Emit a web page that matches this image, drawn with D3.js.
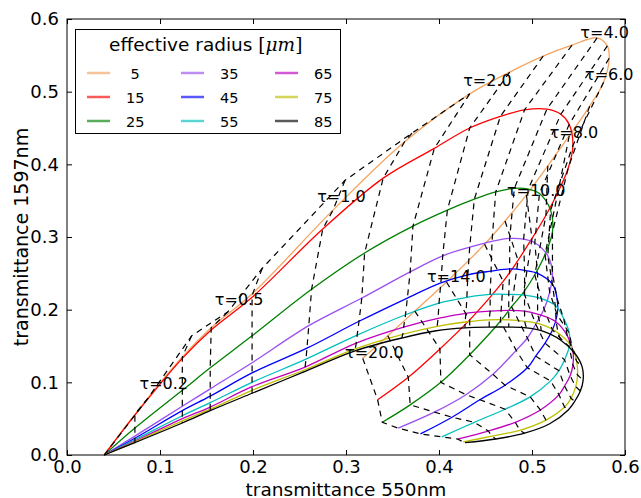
<!DOCTYPE html>
<html>
<head>
<meta charset="utf-8">
<script src="https://cdn.jsdelivr.net/npm/d3@7/dist/d3.min.js"></script>
<style>
  body { margin: 0; background: #ffffff; }
</style>
</head>
<body>
<div id="lutDiv"></div>
<script>
// tau grid shared by every radius curve (tau = 0 is the common start point)
const taus = [0, 0.2, 0.3, 0.5, 0.7, 1.0, 1.5, 2.0, 2.5, 3.0, 3.5, 4.0, 4.5, 5.0, 6.0, 7.0, 8.0, 9.0, 10.0, 11.0, 12.0, 14.0, 16.0, 18.0, 20.0];
const radii = [5, 15, 25, 35, 45, 55, 65, 75, 85];
const radiusColors = ['#f4a460', '#ff0000', '#008000', '#9b4ff0', '#0000ff', '#00bfbf', '#bf00bf', '#bfbf00', '#000000'];

// transmittance 550nm (x) and 1597nm (y) at each tau, one pair per radius
const x5  = [0.040, 0.073, 0.124, 0.155, 0.200, 0.286, 0.363, 0.433, 0.476, 0.512, 0.543, 0.570, 0.581, 0.583, 0.577, 0.562, 0.540, 0.517, 0.494, 0.471, 0.449, 0.408, 0.374, 0.345, 0.318];
const y5  = [0, 0.056, 0.135, 0.175, 0.223, 0.337, 0.431, 0.497, 0.527, 0.549, 0.564, 0.574, 0.563, 0.546, 0.513, 0.480, 0.439, 0.398, 0.358, 0.322, 0.290, 0.238, 0.198, 0.164, 0.133];
const x15 = [0.040, 0.073, 0.124, 0.155, 0.199, 0.275, 0.340, 0.395, 0.433, 0.466, 0.492, 0.516, 0.531, 0.540, 0.544, 0.539, 0.528, 0.515, 0.500, 0.485, 0.469, 0.433, 0.401, 0.367, 0.334];
const y15 = [0, 0.055, 0.133, 0.172, 0.217, 0.311, 0.381, 0.422, 0.450, 0.466, 0.475, 0.476, 0.469, 0.455, 0.426, 0.395, 0.362, 0.330, 0.298, 0.268, 0.239, 0.186, 0.146, 0.107, 0.076];
const x25 = [0.040, 0.073, 0.124, 0.154, 0.199, 0.263, 0.320, 0.372, 0.409, 0.438, 0.461, 0.481, 0.496, 0.508, 0.520, 0.522, 0.514, 0.503, 0.491, 0.478, 0.466, 0.433, 0.402, 0.369, 0.339];
const y25 = [0, 0.037, 0.089, 0.120, 0.164, 0.228, 0.278, 0.315, 0.337, 0.352, 0.362, 0.367, 0.366, 0.360, 0.337, 0.307, 0.276, 0.248, 0.224, 0.204, 0.184, 0.138, 0.100, 0.069, 0.045];
const x35 = [0.040, 0.073, 0.124, 0.154, 0.199, 0.260, 0.317, 0.369, 0.404, 0.433, 0.457, 0.476, 0.491, 0.503, 0.517, 0.522, 0.519, 0.513, 0.504, 0.495, 0.483, 0.458, 0.429, 0.395, 0.356];
const y35 = [0, 0.026, 0.067, 0.091, 0.127, 0.178, 0.216, 0.252, 0.274, 0.286, 0.294, 0.298, 0.297, 0.292, 0.274, 0.250, 0.224, 0.201, 0.180, 0.161, 0.144, 0.111, 0.083, 0.059, 0.037];
const x45 = [0.040, 0.073, 0.124, 0.154, 0.199, 0.258, 0.314, 0.366, 0.402, 0.431, 0.456, 0.476, 0.492, 0.506, 0.522, 0.527, 0.527, 0.522, 0.514, 0.504, 0.495, 0.471, 0.444, 0.414, 0.380];
const y45 = [0, 0.023, 0.061, 0.081, 0.113, 0.147, 0.184, 0.216, 0.237, 0.248, 0.253, 0.256, 0.254, 0.250, 0.235, 0.215, 0.193, 0.172, 0.154, 0.136, 0.120, 0.096, 0.076, 0.052, 0.029];
const x55 = [0.040, 0.073, 0.124, 0.154, 0.199, 0.257, 0.312, 0.364, 0.400, 0.430, 0.455, 0.475, 0.492, 0.506, 0.525, 0.534, 0.540, 0.540, 0.535, 0.529, 0.520, 0.498, 0.471, 0.438, 0.403];
const y55 = [0, 0.021, 0.054, 0.072, 0.100, 0.132, 0.165, 0.193, 0.209, 0.217, 0.221, 0.221, 0.220, 0.217, 0.206, 0.188, 0.168, 0.149, 0.131, 0.116, 0.102, 0.080, 0.063, 0.045, 0.025];
const x65 = [0.040, 0.073, 0.124, 0.154, 0.199, 0.256, 0.311, 0.362, 0.399, 0.429, 0.455, 0.475, 0.492, 0.506, 0.526, 0.538, 0.544, 0.544, 0.541, 0.535, 0.529, 0.509, 0.482, 0.453, 0.420];
const y65 = [0, 0.019, 0.050, 0.066, 0.094, 0.121, 0.154, 0.176, 0.188, 0.195, 0.198, 0.199, 0.198, 0.194, 0.183, 0.164, 0.143, 0.124, 0.109, 0.095, 0.083, 0.062, 0.045, 0.033, 0.022];
const x75 = [0.040, 0.073, 0.124, 0.154, 0.199, 0.255, 0.310, 0.361, 0.398, 0.428, 0.454, 0.475, 0.492, 0.509, 0.528, 0.542, 0.548, 0.549, 0.547, 0.542, 0.535, 0.515, 0.487, 0.457, 0.426];
const y75 = [0, 0.018, 0.047, 0.063, 0.089, 0.117, 0.146, 0.166, 0.177, 0.183, 0.186, 0.186, 0.184, 0.180, 0.168, 0.150, 0.129, 0.110, 0.094, 0.078, 0.066, 0.048, 0.034, 0.026, 0.018];
const x85 = [0.040, 0.073, 0.124, 0.154, 0.199, 0.254, 0.309, 0.360, 0.397, 0.428, 0.454, 0.475, 0.494, 0.510, 0.531, 0.546, 0.554, 0.555, 0.552, 0.546, 0.539, 0.519, 0.492, 0.461, 0.428];
const y85 = [0, 0.017, 0.044, 0.061, 0.085, 0.114, 0.143, 0.161, 0.171, 0.175, 0.176, 0.176, 0.175, 0.171, 0.158, 0.140, 0.121, 0.103, 0.088, 0.074, 0.062, 0.043, 0.030, 0.022, 0.017];

// extra top points of the thin-cloud tau lines (dashed envelope above the 5 um curve)
const topTaus = [0.2, 0.3, 0.5, 0.7, 1.0, 1.5, 2.0];
const topX = [0.087, 0.134, 0.173, 0.210, 0.299, 0.371, 0.433];
const topY = [0.078, 0.164, 0.197, 0.257, 0.378, 0.443, 0.497];

// tau annotations (start of text, in data coords)
const labelTaus = [0.2, 0.5, 1.0, 2.0, 4.0, 6.0, 8.0, 10.0, 14.0, 20.0];
const labelX = [0.078, 0.159, 0.269, 0.426, 0.552, 0.557, 0.519, 0.473, 0.387, 0.299];
const labelY = [0.091, 0.206, 0.348, 0.508, 0.574, 0.516, 0.436, 0.356, 0.238, 0.133];

const xTicks = [0, 0.1, 0.2, 0.3, 0.4, 0.5, 0.6];
const yTicks = [0, 0.1, 0.2, 0.3, 0.4, 0.5, 0.6];

/**
 * Lookup table plot: transmittance 550nm vs 1597nm for radius / tau grid
 */
class LutPlot {
    constructor() {
        this.margin = { top: 19, right: 16, bottom: 43, left: 67 };
        this.width = 641 - this.margin.left - this.margin.right;
        this.height = 498 - this.margin.top - this.margin.bottom;
        this.font = 'DejaVu Sans, sans-serif';

        let xs = [x5, x15, x25, x35, x45, x55, x65, x75, x85];
        let ys = [y5, y15, y25, y35, y45, y55, y65, y75, y85];
        this.series = radii.map((r, i) => ({
            radius: r,
            color: radiusColors[i],
            points: taus.map((t, j) => ({ tau: t, x: xs[i][j], y: ys[i][j] }))
        }));

        this.drawPlot();
    }

    drawPlot() {
        let that = this;
        this.svg = d3.select('#lutDiv')
            .append('svg')
            .attr('width', 641)
            .attr('height', 498)
            .style('display', 'block');

        this.xScale = d3.scaleLinear().domain([0, 0.6]).range([0, this.width]);
        this.yScale = d3.scaleLinear().domain([0, 0.6]).range([this.height, 0]);

        let plotGroup = this.svg.append('g')
            .attr('transform', `translate(${this.margin.left}, ${this.margin.top})`);

        let solidFn = d3.line()
            .x(d => that.xScale(d.x))
            .y(d => that.yScale(d.y))
            .curve(d3.curveCatmullRom.alpha(0.5));
        let dashFn = d3.line()
            .x(d => that.xScale(d.x))
            .y(d => that.yScale(d.y));

        //one solid curve per effective radius
        plotGroup.append('g').selectAll('path')
            .data(this.series)
            .join('path')
            .attr('d', d => solidFn(d.points))
            .attr('fill', 'none')
            .attr('stroke', d => d.color)
            .attr('stroke-width', 1.3);

        //dashed lines of constant tau across the radii
        let tauLines = [];
        taus.forEach((t, j) => {
            if (j === 0) return;
            let pts = [];
            let k = topTaus.indexOf(t);
            if (k >= 0) pts.push({ x: topX[k], y: topY[k] });
            that.series.forEach(s => pts.push(s.points[j]));
            tauLines.push(pts);
        });
        let envelope = [{ x: x5[0], y: y5[0] }].concat(topTaus.map((t, k) => ({ x: topX[k], y: topY[k] })));
        tauLines.push(envelope);

        plotGroup.append('g').selectAll('path')
            .data(tauLines)
            .join('path')
            .attr('d', d => dashFn(d))
            .attr('fill', 'none')
            .attr('stroke', '#000')
            .attr('stroke-width', 1.2)
            .attr('stroke-dasharray', '6,5');

        //tau annotations
        plotGroup.append('g').selectAll('text')
            .data(labelTaus)
            .join('text')
            .attr('x', (d, i) => that.xScale(labelX[i]))
            .attr('y', (d, i) => that.yScale(labelY[i]))
            .attr('font-family', this.font)
            .attr('font-size', 16)
            .attr('fill', '#000')
            .text(d => `\u03C4=${d.toFixed(1)}`);

        this.drawAxes(plotGroup);
        this.drawLegend();
    }

    drawAxes(plotGroup) {
        let fmt = d3.format('.1f');
        let xAxis = d3.axisBottom(this.xScale).tickValues(xTicks).tickFormat(fmt)
            .tickSize(-5).tickSizeOuter(0).tickPadding(5.5);
        let yAxis = d3.axisLeft(this.yScale).tickValues(yTicks).tickFormat(fmt)
            .tickSize(-5).tickSizeOuter(0).tickPadding(8);
        let xTop = d3.axisTop(this.xScale).tickValues(xTicks).tickFormat('').tickSize(-5).tickSizeOuter(0);
        let yRight = d3.axisRight(this.yScale).tickValues(yTicks).tickFormat('').tickSize(-5).tickSizeOuter(0);

        let axes = [
            [xAxis, `translate(0, ${this.height})`],
            [yAxis, 'translate(0, 0)'],
            [xTop, 'translate(0, 0)'],
            [yRight, `translate(${this.width}, 0)`]
        ];
        axes.forEach(a => {
            let g = plotGroup.append('g')
                .classed('axis', true)
                .attr('transform', a[1])
                .call(a[0]);
            g.select('.domain').remove();
            g.selectAll('text')
                .attr('font-family', this.font)
                .attr('font-size', 18)
                .attr('fill', '#000');
        });

        plotGroup.append('rect')
            .attr('x', 0).attr('y', 0)
            .attr('width', this.width)
            .attr('height', this.height)
            .attr('fill', 'none')
            .attr('stroke', '#000')
            .attr('stroke-width', 1);

        this.svg.append('text')
            .text('transmittance 550nm')
            .attr('x', this.margin.left + this.width / 2)
            .attr('y', 495.5)
            .attr('text-anchor', 'middle')
            .attr('font-family', this.font)
            .attr('font-size', 18.5);
        this.svg.append('text')
            .text('transmittance 1597nm')
            .attr('transform', `translate(28, ${this.margin.top + this.height / 2}) rotate(-90)`)
            .attr('text-anchor', 'middle')
            .attr('font-family', this.font)
            .attr('font-size', 19);
    }

    drawLegend() {
        let legendGroup = this.svg.append('g').attr('id', 'legend-group');
        legendGroup.append('rect')
            .attr('x', 75.5).attr('y', 29.5)
            .attr('width', 265).attr('height', 104)
            .attr('fill', '#fff')
            .attr('stroke', '#000')
            .attr('stroke-width', 1);

        let title = legendGroup.append('text')
            .attr('x', 109).attr('y', 51)
            .attr('font-family', this.font)
            .attr('font-size', 18.5);
        title.append('tspan').text('effective radius ');
        title.append('tspan').attr('font-family', 'DejaVu Serif').text('[');
        title.append('tspan').attr('font-family', 'DejaVu Serif').attr('font-style', 'italic').text('\u03BCm');
        title.append('tspan').attr('font-family', 'DejaVu Serif').text(']');

        let entries = legendGroup.selectAll('g.entry')
            .data(this.series)
            .join('g')
            .classed('entry', true)
            .attr('transform', (d, i) => `translate(${87 + Math.floor(i / 3) * 94}, ${73 + (i % 3) * 24})`);
        entries.append('line')
            .attr('x1', 0).attr('x2', 23)
            .attr('stroke', d => d.color)
            .attr('stroke-width', 2.5)
            .attr('stroke-opacity', 0.65);
        entries.append('text')
            .attr('x', 39).attr('y', 5.5)
            .attr('font-family', this.font)
            .attr('font-size', 14.5)
            .style('white-space', 'pre')
            .text(d => d3.format('2d')(d.radius));
    }
}

new LutPlot();
</script>
</body>
</html>
